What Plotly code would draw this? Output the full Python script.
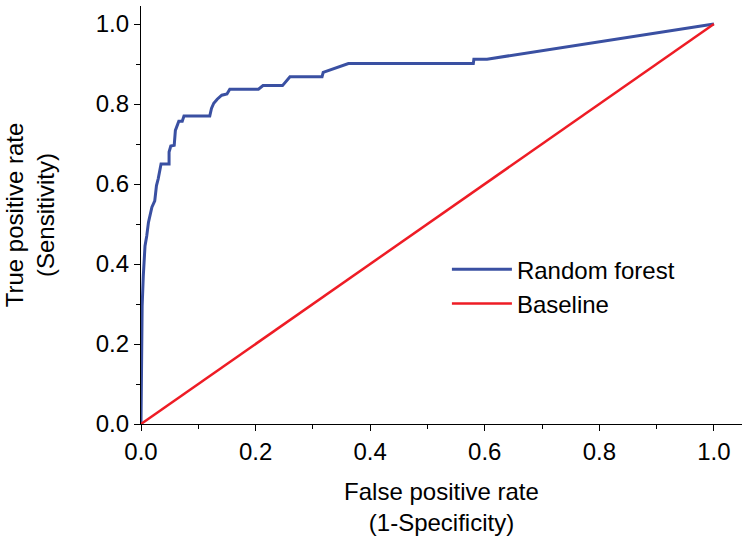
import plotly.graph_objects as go

# ROC curve for random forest
rf_fpr = [0.000, 0.001, 0.002, 0.004, 0.007, 0.010, 0.013, 0.019, 0.024, 0.027, 0.030,
          0.035, 0.049, 0.049, 0.052, 0.058, 0.060, 0.066, 0.072, 0.075, 0.120,
          0.123, 0.127, 0.133, 0.141, 0.150, 0.155, 0.205, 0.213, 0.247, 0.260,
          0.316, 0.318, 0.362, 0.580, 0.581, 0.604, 1.000]
rf_tpr = [0.000, 0.195, 0.295, 0.370, 0.445, 0.470, 0.504, 0.542, 0.558, 0.596, 0.613,
          0.650, 0.650, 0.680, 0.695, 0.697, 0.734, 0.757, 0.757, 0.770, 0.770,
          0.789, 0.802, 0.812, 0.822, 0.825, 0.837, 0.837, 0.846, 0.846, 0.868,
          0.868, 0.879, 0.901, 0.901, 0.912, 0.912, 1.000]

base_fpr = [0.0, 1.0]
base_tpr = [0.0, 1.0]

x_tickvals = [0.0, 0.2, 0.4, 0.6, 0.8, 1.0]
x_ticktext = ["0.0", "0.2", "0.4", "0.6", "0.8", "1.0"]
y_tickvals = [0.0, 0.2, 0.4, 0.6, 0.8, 1.0]
y_ticktext = ["0.0", "0.2", "0.4", "0.6", "0.8", "1.0"]

FONT = "Liberation Sans, Arial, sans-serif"

fig = go.Figure()
fig.add_trace(go.Scatter(x=rf_fpr, y=rf_tpr, mode="lines", name="Random forest",
                         line=dict(color="#3a50a2", width=3)))
fig.add_trace(go.Scatter(x=base_fpr, y=base_tpr, mode="lines", name="Baseline",
                         line=dict(color="#ee1c25", width=2.5)))

axis_common = dict(showgrid=False, zeroline=False, showline=True, linecolor="black",
                   linewidth=1.2, ticks="outside", ticklen=6, tickwidth=1.2,
                   tickcolor="black", tickfont=dict(family=FONT, size=24, color="black"),
                   mirror=False, automargin=False)

fig.update_layout(
    width=750, height=544,
    margin=dict(l=141, r=8, t=6, b=120),
    paper_bgcolor="white", plot_bgcolor="white",
    font=dict(family=FONT, color="black"),
    xaxis=dict(range=[0, 1.049], tickvals=x_tickvals, ticktext=x_ticktext,
               minor=dict(ticks="outside", ticklen=4, tickwidth=1.2, tickcolor="black", dtick=0.1),
               title=dict(text="False positive rate<br>(1-Specificity)",
                          font=dict(family=FONT, size=24), standoff=19),
               **axis_common),
    yaxis=dict(range=[0, 1.045], tickvals=y_tickvals, ticktext=y_ticktext,
               minor=dict(ticks="outside", ticklen=4, tickwidth=1.2, tickcolor="black", dtick=0.1),
               title=dict(text="True positive rate<br>(Sensitivity)",
                          font=dict(family=FONT, size=24), standoff=34),
               **axis_common),
    legend=dict(x=0.509, y=0.423, xanchor="left", yanchor="top",
                bgcolor="rgba(0,0,0,0)", font=dict(family=FONT, size=24),
                itemwidth=60, tracegroupgap=0),
    showlegend=True,
)

fig.write_html("out.html",
               config={"displayModeBar": False},
               post_script="document.body.style.margin='0';document.body.style.overflow='hidden';")
